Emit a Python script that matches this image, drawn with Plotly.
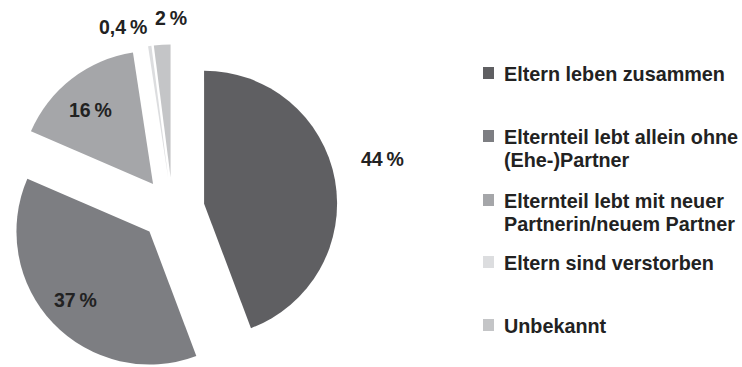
import math
import plotly.graph_objects as go

# --- data -------------------------------------------------------------
labels = [
    "Eltern leben zusammen",
    "Elternteil lebt allein ohne<br>(Ehe-)Partner",
    "Elternteil lebt mit neuer<br>Partnerin/neuem Partner",
    "Eltern sind verstorben",
    "Unbekannt",
]
values = [44, 37, 16, 0.4, 2]
colors = ["#5f5f62", "#7d7e82", "#a5a6a9", "#dcdddf", "#c4c5c7"]

# --- layout geometry (pixels) -----------------------------------------
W, H = 742, 367
CX, CY = 172.6, 209.4      # pie centre before exploding
R = 133.0                  # pie radius
EXPLODE = 32.0             # distance every slice is pulled out
TXT = "#222222"
FONT = "Liberation Sans, Arial, sans-serif"


def fmt(v):
    return f"{v:g}".replace(".", ",") + "\u2009%"


fig = go.Figure()

# One pie trace per slice: the slice itself is coloured, the rest transparent,
# and the trace's domain is shifted along the slice's bisector to explode it.
total = sum(values)
acc = 0.0
for i, v in enumerate(values):
    mid = math.radians(360.0 * (acc + v / 2.0) / total)
    acc += v
    cx = CX + EXPLODE * math.sin(mid)
    cy = CY - EXPLODE * math.cos(mid)
    dom_x = [(cx - R) / W, (cx + R) / W]
    dom_y = [(H - cy - R) / H, (H - cy + R) / H]
    slice_colors = [c if j == i else "rgba(0,0,0,0)" for j, c in enumerate(colors)]
    fig.add_trace(go.Pie(
        labels=labels,
        values=values,
        sort=False,
        direction="clockwise",
        rotation=0,
        marker=dict(colors=slice_colors, line=dict(width=0)),
        textinfo="none",
        hoverinfo="skip",
        showlegend=False,
        domain=dict(x=dom_x, y=dom_y),
    ))

# percentage labels
label_pos = [(382, 159), (75, 300), (90, 110), (123, 27), (171, 18)]
for v, (px, py) in zip(values, label_pos):
    fig.add_annotation(
        x=px / W, y=1 - py / H, xref="paper", yref="paper",
        text=fmt(v), showarrow=False, xanchor="center", yanchor="middle",
        font=dict(family=FONT, size=19.5, color=TXT, weight="bold"),
    )

# legend: square swatch + label lines
legend_y = [73, 136, 200, 262, 325]
LINE = 23
for lab, col, ly in zip(labels, colors, legend_y):
    fig.add_shape(
        type="rect", xref="paper", yref="paper",
        x0=483 / W, x1=494 / W, y0=1 - (ly + 6) / H, y1=1 - (ly - 6) / H,
        fillcolor=col, line=dict(width=0),
    )
    for k, part in enumerate(lab.split("<br>")):
        fig.add_annotation(
            x=502 / W, y=1 - (ly + 1 + k * LINE) / H, xref="paper", yref="paper",
            text=part, showarrow=False, xanchor="left", yanchor="middle",
            font=dict(family=FONT, size=19.8, color=TXT, weight="bold"),
        )

fig.update_layout(
    width=W, height=H,
    margin=dict(l=0, r=0, t=0, b=0),
    paper_bgcolor="white", plot_bgcolor="white",
    showlegend=False,
)

fig.write_html("out.html")
